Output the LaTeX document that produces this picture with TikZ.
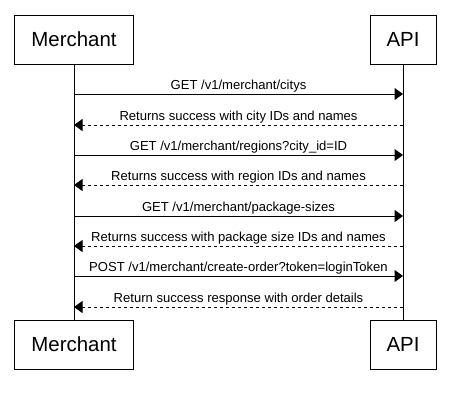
\documentclass[tikz,border=0pt]{standalone}
\usepackage{fontspec}
\setmainfont{Liberation Sans}
\usetikzlibrary{arrows.meta, positioning}
\tikzstyle{actor} = [rectangle, draw, line width=1bp, minimum height=49bp, font=\fontsize{20.5}{23}\selectfont]
\tikzstyle{msg} = [line width=1bp, -{Triangle[length=8.5bp,width=12bp]}]
\tikzstyle{reply} = [msg, dash pattern=on 3bp off 3bp]
\tikzstyle{lifeline} = [line width=1bp]
\tikzstyle{label} = [above, inner sep=1.5bp, font=\fontsize{13.1}{14}\selectfont]

\begin{document}
\begin{tikzpicture}[x=1bp, y=-1bp]
    \useasboundingbox (0,0) rectangle (451,403);

    % Actors
    \node (merchant) [actor, minimum width=118bp] at (74,39.5) {Merchant};
    \node (api) [actor, minimum width=66bp] at (403,39.5) {API};
    \node (merchant_end) [actor, minimum width=118bp] at (74,344.5) {Merchant};
    \node (api_end) [actor, minimum width=66bp] at (403,344.5) {API};

    % Lifelines
    \draw [lifeline] (merchant) -- (merchant_end);
    \draw [lifeline] (api) -- (api_end);

    % Points on the lifelines
    \coordinate (m1) at (merchant |- 0,94);
    \coordinate (a1) at (api |- 0,94);
    \coordinate (m2) at (merchant |- 0,125);
    \coordinate (a2) at (api |- 0,125);
    \coordinate (m3) at (merchant |- 0,155);
    \coordinate (a3) at (api |- 0,155);
    \coordinate (m4) at (merchant |- 0,185);
    \coordinate (a4) at (api |- 0,185);
    \coordinate (m5) at (merchant |- 0,216);
    \coordinate (a5) at (api |- 0,216);
    \coordinate (m6) at (merchant |- 0,246);
    \coordinate (a6) at (api |- 0,246);
    \coordinate (m7) at (merchant |- 0,276);
    \coordinate (a7) at (api |- 0,276);
    \coordinate (m8) at (merchant |- 0,307);
    \coordinate (a8) at (api |- 0,307);

    % Messages
    \draw [msg] (m1) -- node [label] {GET /v1/merchant/citys} (a1);
    \draw [reply] (a2) -- node [label] {Returns success with city IDs and names} (m2);
    \draw [msg] (m3) -- node [label] {GET /v1/merchant/regions?city\_id=ID} (a3);
    \draw [reply] (a4) -- node [label] {Returns success with region IDs and names} (m4);
    \draw [msg] (m5) -- node [label] {GET /v1/merchant/package-sizes} (a5);
    \draw [reply] (a6) -- node [label] {Returns success with package size IDs and names} (m6);
    \draw [msg] (m7) -- node [label] {POST /v1/merchant/create-order?token=loginToken} (a7);
    \draw [reply] (a8) -- node [label] {Return success response with order details} (m8);

\end{tikzpicture}
\end{document}
